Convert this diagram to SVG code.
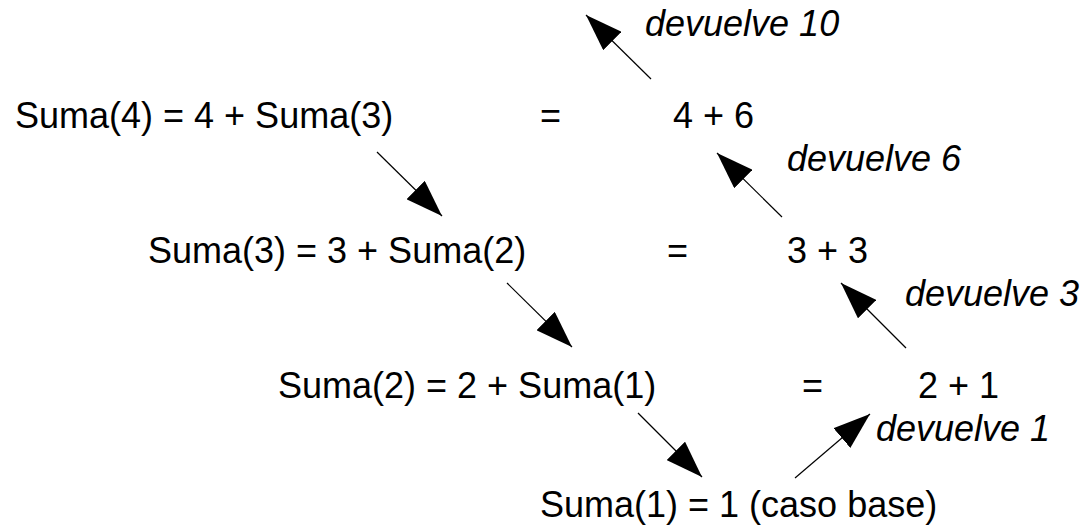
<svg xmlns="http://www.w3.org/2000/svg" width="1091" height="528" viewBox="0 0 1091 528">
<style>
text{font-family:"Liberation Sans",Arial,sans-serif;font-size:36px;fill:#000}
.it{font-style:italic}
.c{stroke:#000;stroke-width:1.2;fill:none;marker-end:url(#ah)}
</style>
<defs>
<marker id="ah" markerUnits="userSpaceOnUse" viewBox="0 0 37 26" markerWidth="37" markerHeight="26" refX="37" refY="13" orient="auto">
<path d="M0,0 L37,13 L0,26 z" fill="#000"/>
</marker>
</defs>
<rect width="1091" height="528" fill="#fff"/>
<g id="row1">
<text x="15" y="128">Suma(4) = 4 + Suma(3)</text>
<text x="540" y="128">=</text>
<text x="673" y="128">4 + 6</text>
</g>
<g id="row2">
<text x="148" y="263">Suma(3) = 3 + Suma(2)</text>
<text x="667" y="263">=</text>
<text x="787" y="263">3 + 3</text>
</g>
<g id="row3">
<text x="278" y="398">Suma(2) = 2 + Suma(1)</text>
<text x="802" y="398">=</text>
<text x="918" y="398">2 + 1</text>
</g>
<g id="row4">
<text x="540" y="517">Suma(1) = 1 (caso base)</text>
</g>
<g id="labels">
<text class="it" x="645" y="36">devuelve 10</text>
<text class="it" x="787" y="171">devuelve 6</text>
<text class="it" x="905" y="306">devuelve 3</text>
<text class="it" x="876" y="441">devuelve 1</text>
</g>
<g id="connectors">
<line class="c" x1="651" y1="79" x2="586" y2="15"/>
<line class="c" x1="377" y1="152" x2="442" y2="216"/>
<line class="c" x1="782" y1="217" x2="717" y2="153"/>
<line class="c" x1="507" y1="283" x2="572" y2="347"/>
<line class="c" x1="906" y1="348" x2="841" y2="283"/>
<line class="c" x1="638" y1="413" x2="702" y2="477"/>
<line class="c" x1="795" y1="478" x2="870" y2="414"/>
</g>
</svg>
